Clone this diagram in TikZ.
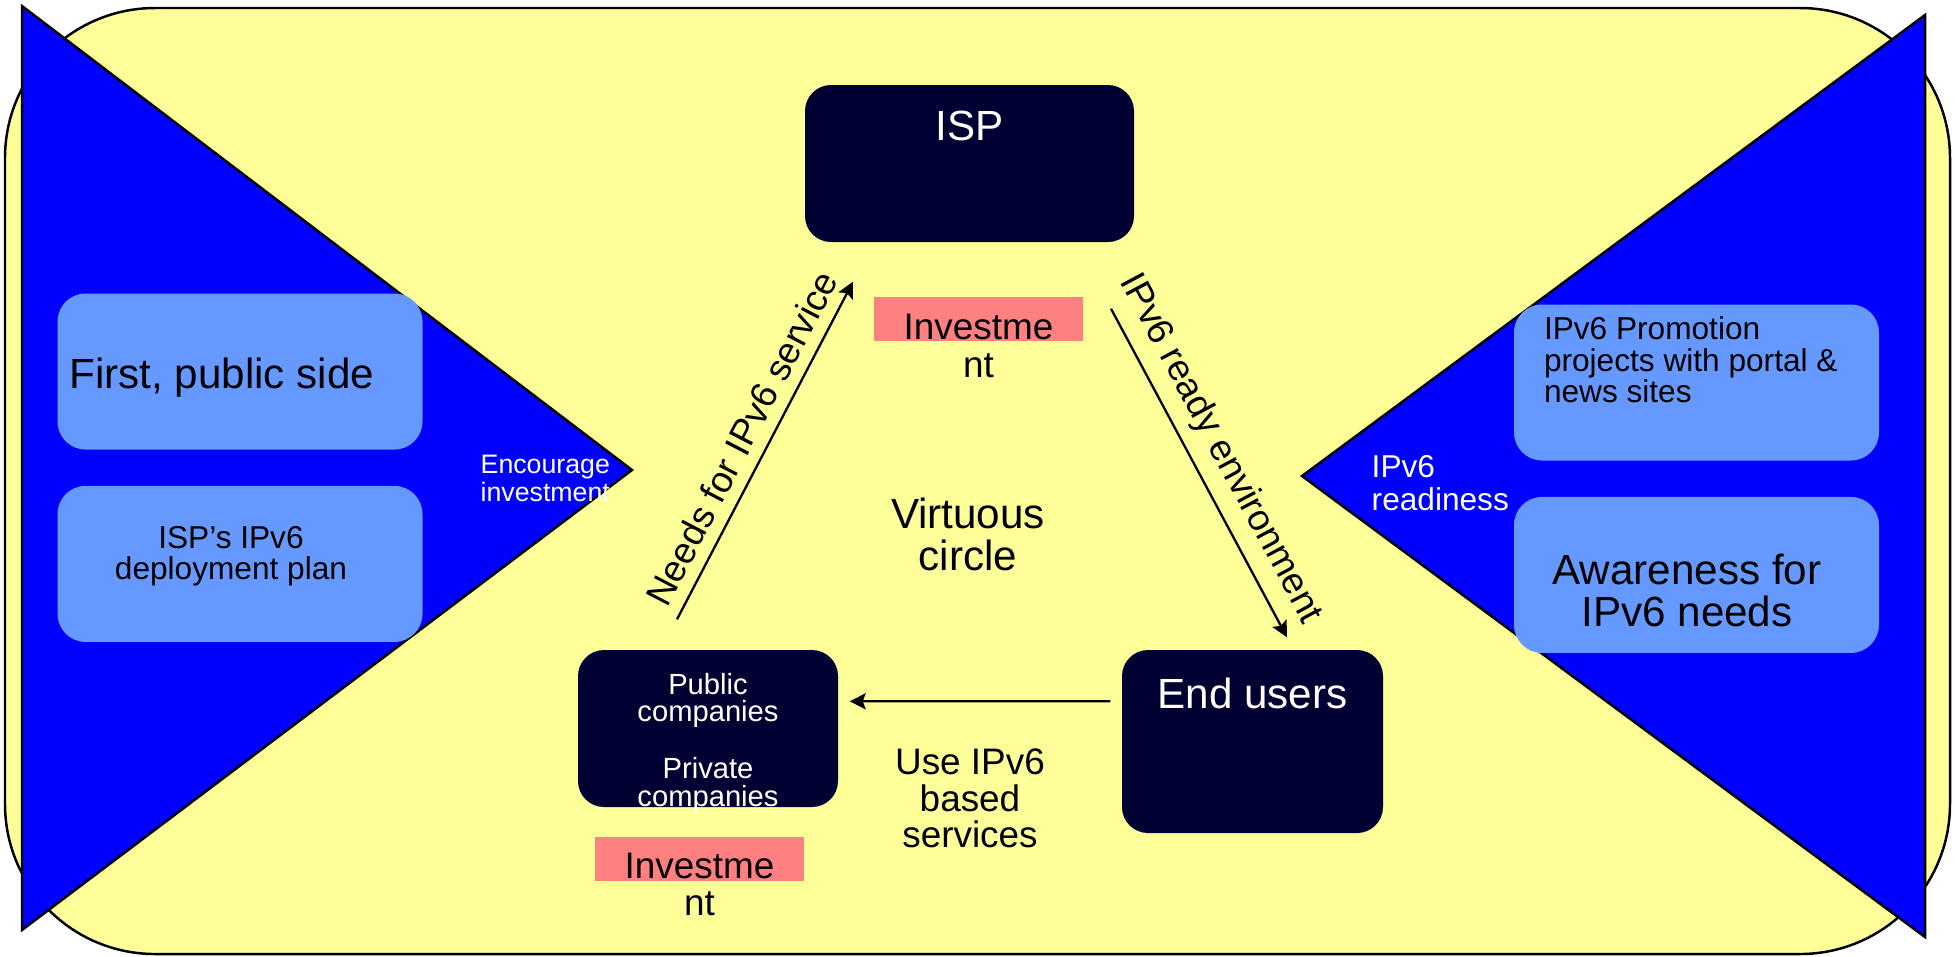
\documentclass[tikz,border=0pt]{standalone}
\usepackage{fontspec}
\setmainfont{Liberation Sans}
\usepackage{tikz}
\usetikzlibrary{positioning,arrows.meta}

\definecolor{padyellow}{HTML}{FFFF99}
\definecolor{wedgeblue}{HTML}{0000FF}
\definecolor{planblue}{HTML}{6699FF}
\definecolor{actornavy}{HTML}{000033}
\definecolor{investpink}{HTML}{FF8080}

\begin{document}
\begin{tikzpicture}[x=0.1mm, y=-0.1mm, node distance=3.5mm,
        actor/.style={fill=actornavy, rounded corners=2.6mm, inner sep=0pt},
        plan/.style={fill=planblue, rounded corners=2.8mm, inner sep=0pt, minimum width=36.5mm, minimum height=15.6mm},
        invest/.style={fill=investpink, inner sep=0pt, minimum width=20.9mm, minimum height=4.4mm},
        wtxt/.style={text=white, inner sep=0pt, align=center},
        btxt/.style={text=black, inner sep=0pt, align=center},
        flow/.style={->, >={Stealth[length=1.6mm, width=1.6mm, inset=0.3mm]}, line width=0.65pt}]
    \useasboundingbox (0,0) rectangle (1955,956);
    \draw[fill=padyellow, line width=0.7pt, rounded corners=15mm] (5,8) rectangle (1950,954);
    \draw[fill=wedgeblue, line width=0.7pt] (22,6) -- (632,470) -- (22,930) -- cycle;
    \draw[fill=wedgeblue, line width=0.7pt] (1925,15) -- (1302,476) -- (1925,937) -- cycle;

    \node[plan] (pubside) at (240,371.5) {};
    \node[plan, below=of pubside] (deploy) {};
    \node[plan] (promo) at (1696.5,382.5) {};
    \node[plan, below=of promo] (aware) {};

    \node[actor, minimum width=32.9mm, minimum height=15.7mm] (isp) at (969.5,163.5) {};
    \node[actor, minimum width=26mm, minimum height=15.7mm] (pub) at (708,728.5) {};
    \node[actor, minimum width=26.1mm, minimum height=18.3mm] (eu) at (1252.5,741.5) {};
    \node[invest] (ispinv) at (978.5,319) {};
    \node[invest] (pubinv) at (699.5,858.5) {};

    \node[btxt, anchor=base west, font=\fontsize{12}{12}\selectfont] (pubsidetxt) at ([shift={(12,16.5)}]pubside.west) {First, public side};
    \node[btxt, below=4mm of deploy.north, xshift=-0.9mm, font=\fontsize{9}{9.1}\selectfont] (deploytxt) {ISP’s IPv6\\deployment plan};
    \node[btxt, anchor=north west, align=left, font=\fontsize{9}{9}\selectfont] (promotxt) at ([shift={(30,12)}]promo.north west) {IPv6 Promotion\\projects with portal \&\\news sites};
    \node[btxt, below=5.7mm of aware.north, xshift=-0.95mm, font=\fontsize{12}{12}\selectfont] (awaretxt) {Awareness for\\IPv6 needs};
    \node[wtxt, anchor=north west, align=left, font=\fontsize{7.6}{6.8}\selectfont] (encourage) at (480,454) {Encourage\\investment};
    \node[wtxt, anchor=north west, align=left, font=\fontsize{9}{9.4}\selectfont] (readiness) at (1371,455) {IPv6\\readiness};

    \node[wtxt, below=2.6mm of isp.north, font=\fontsize{12}{12}\selectfont] (isptxt) {ISP};
    \node[wtxt, below=2.8mm of eu.north, font=\fontsize{12}{12}\selectfont] (eutxt) {End users};
    \node[wtxt, below=2.3mm of pub.north, font=\fontsize{8.3}{7.7}\selectfont] (pubtxt) {Public\\companies\\[7.7pt]Private\\companies};
    \node[btxt, below=1.7mm of ispinv.north, font=\fontsize{10.5}{10.8}\selectfont] (ispinvtxt) {Investme\\nt};
    \node[btxt, below=1.7mm of pubinv.north, font=\fontsize{10.5}{10.3}\selectfont] (pubinvtxt) {Investme\\nt};
    \node[btxt, anchor=north, font=\fontsize{12}{12}\selectfont] (virtuous) at (968,497) {Virtuous\\circle};
    \node[btxt, anchor=north, font=\fontsize{10.5}{10.4}\selectfont] (usesvc) at (970,748) {Use IPv6\\based\\services};

    \draw[flow] ([shift={(-31,-30)}]pub.north) -- node[sloped, above, font=\fontsize{10.5}{10.5}\selectfont] (needs) {Needs for IPv6 service} ([shift={(-116.5,39)}]isp.south);
    \draw[flow] ([shift={(141.5,66)}]isp.south) -- node[pos=0.47, sloped, above, font=\fontsize{10.5}{10.5}\selectfont] (ready) {IPv6 ready environment} ([shift={(34.5,-12)}]eu.north);
    \draw[flow] ([shift={(-11,52)}]eu.north west) -- ([shift={(11,52)}]pub.north east);
\end{tikzpicture}
\end{document}
